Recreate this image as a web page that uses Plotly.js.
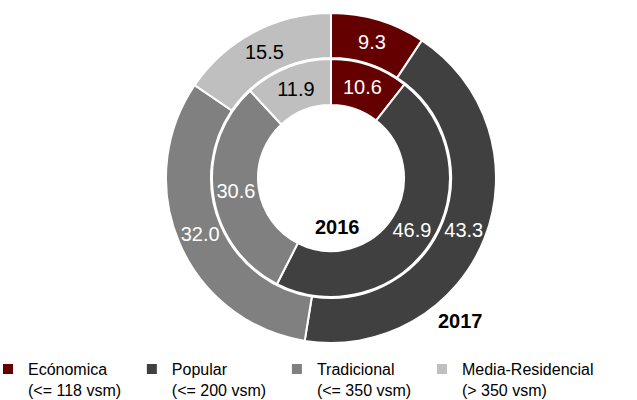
<!DOCTYPE html>
<html>
<head>
<meta charset="utf-8">
<script src="https://cdn.plot.ly/plotly-3.0.1.min.js"></script>
<style>html,body{margin:0;padding:0;background:#fff;}#chart{width:637px;height:400px;}</style>
</head>
<body>
<div id="chart"></div>
<script>
const categories = ['Ecónomica', 'Popular', 'Tradicional', 'Media-Residencial'];
const subLabels = ['(<= 118 vsm)', '(<= 200 vsm)', '(<= 350 vsm)', '(> 350 vsm)'];
const values2016 = [10.6, 46.9, 30.6, 11.9];
const values2017 = [9.3, 43.3, 32.0, 15.5];
const colors = ['#640000', '#404040', '#808080', '#bfbfbf'];
const textColors = ['#ffffff', '#ffffff', '#ffffff', '#000000'];

const font = 'Liberation Sans, Arial, sans-serif';
// legend entry names (two lines); sub-labels padded with no-break spaces so entries share one pitch
const pad = '\u00a0\u00a0\u00a0\u00a0';
const legendNames = categories.map((c, i) =>
  c + '<br>' + subLabels[i] + (i < categories.length - 1 ? pad : ''));

const W = 637, H = 400;
const cx = 331, cy = 178;
function dom(r) {
  return {
    x: [(cx - r) / W, (cx + r) / W],
    y: [(H - cy - r) / H, (H - cy + r) / H]
  };
}

const common = {
  type: 'pie',
  labels: legendNames,
  sort: false,
  direction: 'clockwise',
  rotation: 0,
  marker: {colors: colors, line: {color: '#ffffff', width: 2}},
  textinfo: 'text',
  textposition: 'inside',
  insidetextorientation: 'horizontal',
  textfont: {family: font, size: 20, color: textColors},
  hoverinfo: 'label+value'
};

const outer = Object.assign({}, common, {
  values: values2017,
  text: values2017.map(v => v.toFixed(1)),
  domain: dom(165),
  hole: 120 / 165,
  showlegend: true
});
const inner = Object.assign({}, common, {
  values: values2016,
  text: values2016.map(v => v.toFixed(1)),
  domain: dom(119),
  hole: 73 / 119,
  showlegend: false
});

const layout = {
  width: W, height: H,
  margin: {l: 0, r: 0, t: 0, b: 0, autoexpand: false},
  paper_bgcolor: '#ffffff',
  font: {family: font, size: 16, color: '#000000'},
  showlegend: true,
  legend: {
    orientation: 'h',
    x: 0, xanchor: 'left',
    y: 0.12, yanchor: 'top',
    valign: 'top',
    itemwidth: 30,
    indentation: -12,
    font: {family: font, size: 16, color: '#000000'},
    tracegroupgap: 0
  },
  annotations: [
    {text: '<b>2016</b>', x: 337 / W, y: (H - 227) / H, xref: 'paper', yref: 'paper',
     xanchor: 'center', yanchor: 'middle',
     showarrow: false, font: {family: font, size: 20, color: '#000'}},
    {text: '<b>2017</b>', x: 460 / W, y: (H - 321) / H, xref: 'paper', yref: 'paper',
     xanchor: 'center', yanchor: 'middle',
     showarrow: false, font: {family: font, size: 20, color: '#000'}}
  ]
};

Plotly.newPlot('chart', [outer, inner], layout, {displayModeBar: false, staticPlot: true});
</script>
</body>
</html>
